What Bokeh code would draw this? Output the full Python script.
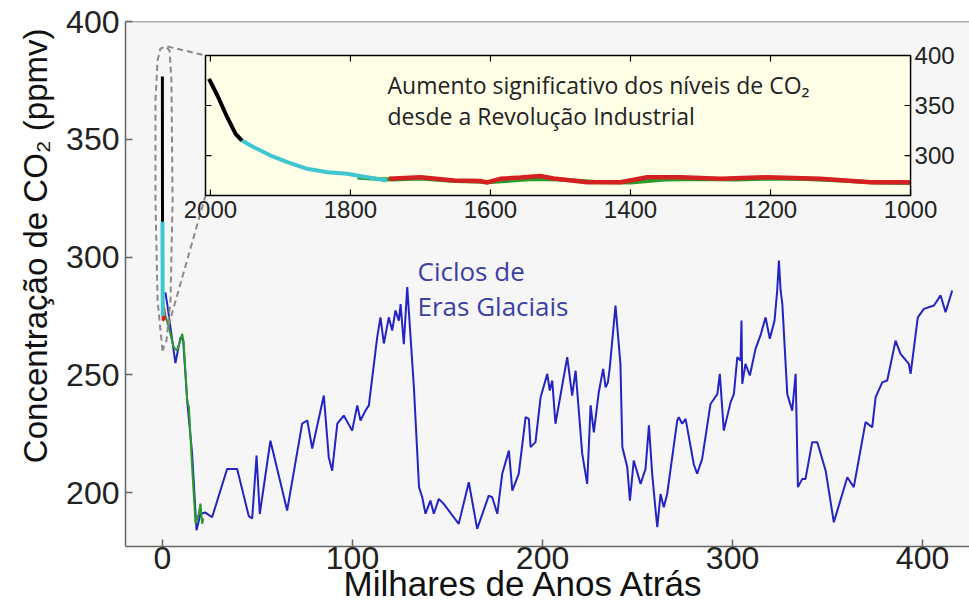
import math
from bokeh.plotting import figure
from bokeh.models import Range1d, FixedTicker, Label, Title, Span
from bokeh.embed import file_html
from bokeh.resources import INLINE
from bokeh.core.properties import value

# ---------------- data (main chart: thousands of years ago, ppmv) ----------------
blue_ka = [1.5, 2.5, 4.2, 6.8, 9.5, 10.9, 13, 15.6, 17.9, 20, 22.6, 26.1, 34, 39.3, 45.4, 47.2,
           49.5, 51.2, 56.8, 65.6, 73.5, 76.2, 78.8, 84.9, 87.5, 89.3, 92, 95.4, 99.8, 102.5,
           104.2, 106.8, 108.6, 113, 114.7, 116.5, 119.1, 120.9, 122.6, 124.4, 125.3, 127, 128.8,
           132.3, 135, 136.7, 138.4, 141, 142.8, 145.4, 148, 155.9, 161.2, 165.6, 171.7, 173.5,
           176.2, 178.8, 182.3, 184.1, 187.5, 191.1, 192.8, 193.7, 196.3, 199, 202.5, 203.8,
           205.1, 206.8, 213, 215.6, 217.4, 220.9, 223.5, 225.3, 227, 229.6, 231.9, 233.2, 234.4,
           235.4, 238.4, 241, 242, 244.6, 246, 248, 251.6, 254.2, 256, 257.7, 259.5, 260.4,
           262.1, 263.8, 265.6, 270.9, 271.7, 273.5, 275.3, 279.6, 281.4, 284, 288.4, 292,
           293.3, 295.4, 299, 300.7, 302.5, 304.2, 304.7, 305.1, 306.8, 309.1, 312.1, 314.7,
           317.4, 319.6, 322.1, 323.5, 324.4, 325.3, 326.2, 328.8, 331.4, 333.2, 334.4, 336.7,
           338.4, 341.9, 344.6, 349, 353.3, 360.4, 363.8, 370, 373.5, 375.3, 378.8, 381.4,
           385.8, 388.4, 392.8, 393.7, 397.5, 400.7, 406, 409.5, 412.1, 415.6]
blue_ppm = [285, 280, 270, 255, 266, 264.5, 239, 216.5, 184, 191, 191.5, 189.5, 210, 210, 190, 189,
            215.7, 190.9, 222, 192.4, 229.3, 230.6, 218.7, 241.2, 215, 209.3, 229.3, 232.7, 226.3, 237,
            230.6, 234.8, 237, 266, 274.4, 263.3, 274.4, 268.8, 277.3, 273, 280, 263, 287.2,
            244.7, 202.3, 198, 191, 196.6, 191, 197.3, 195.2, 186.7, 204.4, 184.6, 198.7, 198,
            191, 208, 217.8, 200.8, 208, 232, 231.3, 219.3, 221.4, 240.5, 250.4, 243.3,
            247.6, 229.2, 257.5, 241.2, 251.8, 216.4, 203.7, 237, 225.6, 242.6, 252.5, 244.7, 246.8,
            253.2, 279.4, 254.6, 219.3, 210.7, 196.6, 213.6, 203.7, 210, 228.5, 208, 192.4, 185.3,
            199.4, 193.8, 199.4, 230.6, 232, 229.2, 231.3, 212, 208, 214.3, 237.6, 241.8,
            250.4, 226.3, 238.4, 241.8, 257.5, 256, 273, 246.2, 254.6, 249.7, 261, 266.7,
            274.4, 265.3, 273, 285.8, 298.5, 285.8, 280.1, 241.8, 234.8, 250.4, 202.3, 205.8,
            205.8, 221.4, 221.4, 209.3, 187.4, 206.5, 202.3, 229.9, 227.7, 240.5, 246.8, 247.6,
            264.5, 258.9, 254.6, 250.4, 274.4, 278, 279.4, 283.7, 276.6, 285.8]

green_ka = [0.3, 0.7, 3.3, 5.9, 7.7, 10.4, 11.2, 13, 13.9, 15.6, 17.4, 19.1, 20, 20.9, 21.5]
green_ppm = [277, 277.3, 270.2, 261.7, 260.3, 267.4, 263.3, 239, 236.2, 210.7, 186.7, 191, 195.3, 186.7, 189]

# ---------------- data (inset: year AD, ppmv) ----------------
black_year = [2002, 1990, 1976, 1964, 1955]
black_ppm = [376.7, 360, 338.3, 321.7, 315]
cyan_year = [1955, 1938, 1914, 1890, 1862, 1833, 1805, 1776, 1748]
cyan_ppm = [315, 308.3, 300, 293.3, 286.7, 283.3, 281.7, 278.3, 275]
red_year = [1745, 1700, 1652, 1615, 1605, 1586, 1557, 1529, 1510, 1462, 1414, 1376, 1329,
            1271, 1205, 1129, 1057, 1000]
red_ppm = [276.7, 278.3, 275, 274.5, 273, 276.7, 278, 279.5, 277, 273.3, 273.3, 278.3, 278.3,
           276.7, 278.3, 276.7, 273.3, 273.3]
greenin_year = [1790, 1760, 1740, 1700, 1650, 1600, 1570, 1540, 1500, 1450, 1400, 1350, 1300,
                1250, 1200, 1150, 1100, 1050, 1000]
greenin_ppm = [278, 276.5, 276, 277, 274.5, 273.5, 275, 276.5, 276, 273.5, 273, 276, 276.5,
               276, 277, 276.5, 275, 273, 272.5]

main_xticks = [0, 100, 200, 300, 400]
main_yticks = [200, 250, 300, 350, 400]
inset_xticks = [2000, 1800, 1600, 1400, 1200, 1000]
inset_yticks = [300, 350, 400]
inset_xlim = (2007, 1000)
inset_ylim = (260, 400)

# where the inset sits, in main-chart data units (ka, ppmv)
inset_box_x = (22.63, 393.68)
inset_box_y = (326.11, 385.56)

# callout outline (ka, ppmv)
loop_x = [0, -2.6, -3.7, -3.7, -2.6, -1.1, 1.6, 3.7, 4.7, 5.3, 4.2, 2.1, 0]
loop_y = [260.3, 281.5, 324, 366.5, 383.4, 388.5, 389.4, 387.7, 375, 324, 281.5, 264.5, 260.3]
conn_xs = [[2.6, 22.63], [3.2, 22.63]]
conn_ys = [[389.4, 385.56], [270.9, 326.11]]


def to_ka(years):
    return [(1950 - y) / 1000.0 for y in years]


FONT = "Liberation Sans"
AXIS_GREY = "#666666"

# ---------------- main figure ----------------
p = figure(width=969, height=606, output_backend="svg", toolbar_location=None,
           x_range=Range1d(-19.47, 424.7), y_range=Range1d(177.1, 400.0),
           min_border_left=125, min_border_right=0, min_border_top=21, min_border_bottom=60)
p.background_fill_color = "#F6F6F6"
p.border_fill_color = "white"
p.outline_line_color = None
p.grid.visible = False

for ax in (p.xaxis[0], p.yaxis[0]):
    ax.major_tick_in = 7
    ax.major_tick_out = 0
    ax.minor_tick_line_color = None
    ax.axis_line_color = AXIS_GREY
    ax.axis_line_width = 1.5
    ax.major_tick_line_color = AXIS_GREY
    ax.major_tick_line_width = 1.5
    ax.major_label_text_font = FONT
    ax.major_label_text_font_size = "32px"
    ax.major_label_text_color = "#222222"
p.xaxis[0].ticker = FixedTicker(ticks=main_xticks)
p.yaxis[0].ticker = FixedTicker(ticks=main_yticks)
p.xaxis[0].major_label_standoff = 0
p.yaxis[0].major_label_standoff = 6

p.add_layout(Span(location=400.0, dimension="width", line_color=AXIS_GREY, line_width=1.5))

# axis titles
ytitle = Title(text="Concentração de CO₂ (ppmv)", align="right", offset=7,
               text_font=FONT, text_font_size="33px", text_font_style="normal",
               text_color="#111111", standoff=20)
p.add_layout(ytitle, "left")

try:
    xtitle = Title(text="Milhares de Anos Atrás", align="left", offset=218,
                   vertical_align="bottom", text_font=FONT, text_font_size="35px",
                   text_font_style="normal", text_color="#111111", standoff=-20)
    p.add_layout(xtitle, "below")
except Exception:
    p.xaxis[0].axis_label = "Milhares de Anos Atrás"
    p.xaxis[0].axis_label_text_font = FONT
    p.xaxis[0].axis_label_text_font_size = "35px"
    p.xaxis[0].axis_label_text_font_style = "normal"
    p.xaxis[0].axis_label_text_color = "#111111"
    p.xaxis[0].axis_label_standoff = -12

p.line(blue_ka, blue_ppm, line_color="#2424c4", line_width=2)
p.line(green_ka, green_ppm, line_color="#2a9a2a", line_width=2)
p.line(to_ka(red_year), red_ppm, line_color="#d42020", line_width=3)
p.line(to_ka(cyan_year), cyan_ppm, line_color="#3fc6d0", line_width=4)
p.line(to_ka(black_year), black_ppm, line_color="black", line_width=3)

p.line(loop_x, loop_y, line_color="#8a8a8a", line_width=2, line_dash="6 4")
p.multi_line(conn_xs, conn_ys, line_color="#8a8a8a", line_width=2, line_dash="6 4")

p.add_layout(Label(x=134.2, y=294.1, text="Ciclos de", text_font="Open Sans",
                   text_font_size="26px", text_color="#3c3fa4", text_baseline="alphabetic"))
p.add_layout(Label(x=134.2, y=279.0, text="Eras Glaciais", text_font="Open Sans",
                   text_font_size="26px", text_color="#3c3fa4", text_baseline="alphabetic"))

# ---------------- inset (sub-coordinate system inside the main frame) ----------------
ins = p.subplot(x_source=Range1d(*inset_xlim), y_source=Range1d(*inset_ylim),
                x_target=Range1d(*inset_box_x), y_target=Range1d(*inset_box_y))

ins.quad(left=[inset_xlim[0]], right=[inset_xlim[1]], bottom=[inset_ylim[0]], top=[inset_ylim[1]],
         fill_color="#FFFFE8", line_color=None)

ins.line(greenin_year, greenin_ppm, line_color="#2a9a2a", line_width=4)
ins.line(red_year, red_ppm, line_color="#d42020", line_width=4.5)
ins.line(cyan_year, cyan_ppm, line_color="#3fc6d0", line_width=4)
ins.line(black_year, black_ppm, line_color="black", line_width=4)

# inset ticks (inward) on all four sides
nx, ny = len(inset_xticks), len(inset_yticks)
ins.ray(x=inset_xticks, y=[inset_ylim[0]] * nx, length=6, length_units="screen",
        angle=math.pi / 2, line_color="black", line_width=1.2)
ins.ray(x=inset_xticks, y=[inset_ylim[1]] * nx, length=6, length_units="screen",
        angle=-math.pi / 2, line_color="black", line_width=1.2)
ins.ray(x=[inset_xlim[0]] * ny, y=inset_yticks, length=6, length_units="screen",
        angle=0, line_color="black", line_width=1.2)
ins.ray(x=[inset_xlim[1]] * ny, y=inset_yticks, length=6, length_units="screen",
        angle=math.pi, line_color="black", line_width=1.2)

ins.quad(left=[inset_xlim[0]], right=[inset_xlim[1]], bottom=[inset_ylim[0]], top=[inset_ylim[1]],
         fill_color=None, line_color="black", line_width=1.5)

ins.text(x=inset_xticks, y=[inset_ylim[0]] * nx, text=[str(t) for t in inset_xticks],
         text_align="center", text_baseline="top", y_offset=5,
         text_font=value(FONT), text_font_size=value("24px"), text_color="#222222")
ins.text(x=[inset_xlim[1]] * ny, y=inset_yticks, text=[str(t) for t in inset_yticks],
         text_align="left", text_baseline="middle", x_offset=4,
         text_font=value(FONT), text_font_size=value("24px"), text_color="#222222")

ins.text(x=[1747, 1747], y=[371, 340],
         text=["Aumento significativo dos níveis de CO₂", "desde a Revolução Industrial"],
         text_align="left", text_baseline="alphabetic",
         text_font=value("Open Sans"), text_font_size=value("23px"), text_color="#222222")

open("out.html", "w").write(file_html(p, INLINE))
